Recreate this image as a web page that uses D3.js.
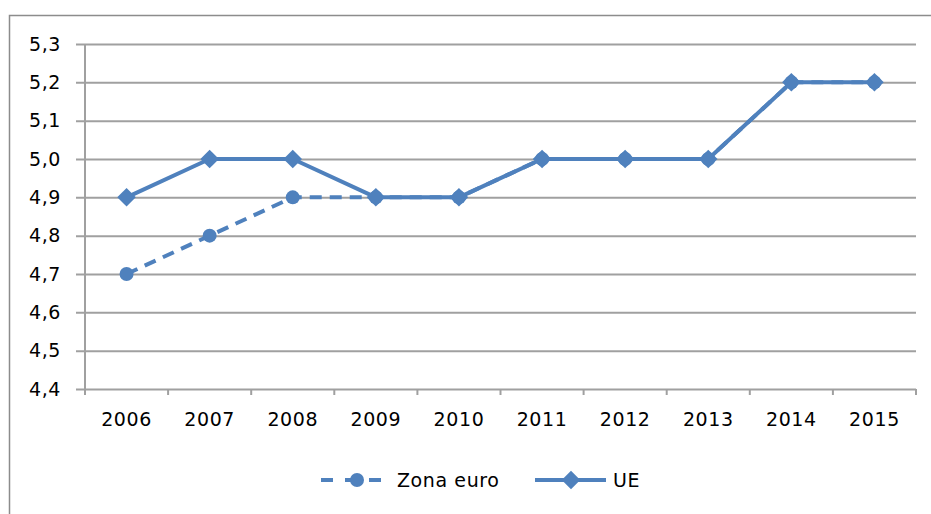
<!DOCTYPE html>
<html>
<head>
<meta charset="utf-8">
<script src="https://cdn.jsdelivr.net/npm/d3@7"></script>
<style>
  body { margin: 0; background: #fff; }
  text { font-family: "DejaVu Sans", Verdana, sans-serif; fill: #000; letter-spacing: 0.6px; }
</style>
</head>
<body>
<div id="chart"></div>
<script>
// Data
const years = ['2006', '2007', '2008', '2009', '2010', '2011', '2012', '2013', '2014', '2015'];
const zonaEuro = [4.7, 4.8, 4.9, 4.9, 4.9, 5.0, 5.0, 5.0, 5.2, 5.2];
const ue = [4.9, 5.0, 5.0, 4.9, 4.9, 5.0, 5.0, 5.0, 5.2, 5.2];
const yTicks = [4.4, 4.5, 4.6, 4.7, 4.8, 4.9, 5.0, 5.1, 5.2, 5.3];

const W = 931, H = 514;
const PLOT = { LEFT: 85, RIGHT: 916, TOP: 44, BOTTOM: 389 };
const BLUE = '#4f81bd';
const GRID = '#a0a0a0';
const FONT = '19px';

const svg = d3.select('#chart').append('svg')
  .attr('width', W)
  .attr('height', H);

// Outer frame
svg.append('rect')
  .attr('x', 9.5).attr('y', 15.5)
  .attr('width', W).attr('height', H)
  .attr('fill', '#fff')
  .attr('stroke', '#8c8c8c')
  .attr('stroke-width', 1.5);

const x = d3.scaleBand()
  .domain(years)
  .range([PLOT.LEFT, PLOT.RIGHT]);

const y = d3.scaleLinear()
  .domain([4.4, 5.3])
  .range([PLOT.BOTTOM, PLOT.TOP]);

const fmt = d => d3.format('.1f')(d).replace('.', ',');

// Gridlines + y axis
const yAxis = svg.append('g')
  .attr('transform', `translate(${PLOT.LEFT},0)`)
  .call(d3.axisLeft(y).tickValues(yTicks).tickFormat(fmt)
    .tickSize(-(PLOT.RIGHT - PLOT.LEFT)).tickPadding(16));
yAxis.select('.domain').remove();
yAxis.selectAll('.tick line')
  .attr('x1', -9)
  .attr('stroke', GRID)
  .attr('stroke-width', 2);
yAxis.selectAll('.tick text')
  .attr('x', -24)
  .style('font-size', FONT);

// Vertical axis line
svg.append('line')
  .attr('x1', PLOT.LEFT).attr('x2', PLOT.LEFT)
  .attr('y1', PLOT.TOP).attr('y2', PLOT.BOTTOM + 6)
  .attr('stroke', GRID).attr('stroke-width', 2);

// X axis
const xAxis = svg.append('g')
  .attr('transform', `translate(0,${PLOT.BOTTOM})`)
  .call(d3.axisBottom(x).tickSize(0).tickPadding(24));
xAxis.select('.domain').remove();
xAxis.selectAll('.tick text').style('font-size', FONT);

// Category boundary ticks
svg.append('g').selectAll('line')
  .data(years)
  .join('line')
  .attr('x1', d => x(d) + x.bandwidth())
  .attr('x2', d => x(d) + x.bandwidth())
  .attr('y1', PLOT.BOTTOM)
  .attr('y2', PLOT.BOTTOM + 6)
  .attr('stroke', GRID).attr('stroke-width', 2);

const cx = (d, i) => x(years[i]) + x.bandwidth() / 2;

const line = d3.line()
  .x(cx)
  .y(d => y(d));

// Zona euro (dashed, circles)
svg.append('path')
  .datum(zonaEuro)
  .attr('d', line)
  .attr('fill', 'none')
  .attr('stroke', BLUE)
  .attr('stroke-width', 4)
  .attr('stroke-dasharray', '12,8');

svg.append('g').selectAll('circle')
  .data(zonaEuro)
  .join('circle')
  .attr('cx', cx)
  .attr('cy', d => y(d))
  .attr('r', 7)
  .attr('fill', BLUE);

// UE (solid, diamonds)
svg.append('path')
  .datum(ue)
  .attr('d', line)
  .attr('fill', 'none')
  .attr('stroke', BLUE)
  .attr('stroke-width', 4)
  .attr('stroke-linejoin', 'round');

const diamond = d3.symbol().type(d3.symbolDiamond2).size(220);
svg.append('g').selectAll('path')
  .data(ue)
  .join('path')
  .attr('d', diamond)
  .attr('transform', (d, i) => `translate(${cx(d, i)},${y(d)})`)
  .attr('fill', BLUE);

// Legend
const legendY = 480;
const lg = svg.append('g');
lg.append('line')
  .attr('x1', 321).attr('x2', 382)
  .attr('y1', legendY).attr('y2', legendY)
  .attr('stroke', BLUE).attr('stroke-width', 4)
  .attr('stroke-dasharray', '12,12');
lg.append('circle')
  .attr('cx', 357).attr('cy', legendY).attr('r', 7)
  .attr('fill', BLUE);
lg.append('text')
  .attr('x', 397).attr('y', legendY + 7)
  .style('font-size', FONT)
  .text('Zona euro');

lg.append('line')
  .attr('x1', 535).attr('x2', 606)
  .attr('y1', legendY).attr('y2', legendY)
  .attr('stroke', BLUE).attr('stroke-width', 4);
lg.append('path')
  .attr('d', diamond)
  .attr('transform', `translate(571,${legendY})`)
  .attr('fill', BLUE);
lg.append('text')
  .attr('x', 613).attr('y', legendY + 7)
  .style('font-size', FONT)
  .text('UE');
</script>
</body>
</html>
